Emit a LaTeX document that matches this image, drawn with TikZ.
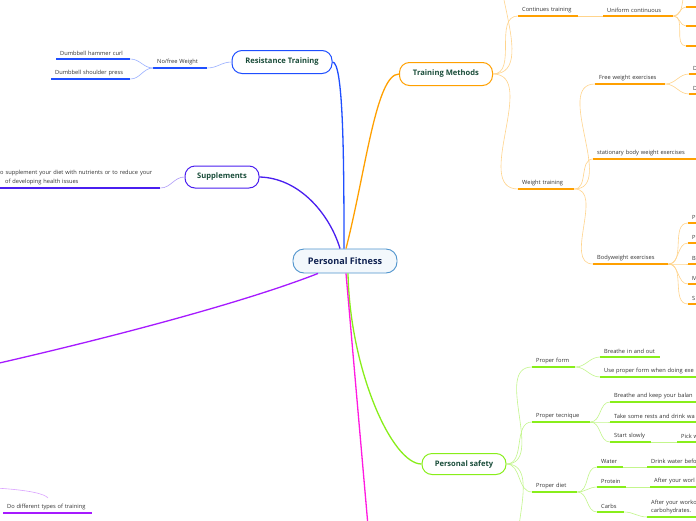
\documentclass[tikz,border=0pt]{standalone}
\usepackage{fontspec}
\setmainfont{Open Sans}

\definecolor{rootline}{HTML}{4F94CD}
\definecolor{rootfill}{HTML}{F3F8FC}
\definecolor{roottext}{HTML}{0F2150}
\definecolor{nodetext}{HTML}{1A4D3A}
\definecolor{leaftext}{HTML}{333333}
\definecolor{resblue}{HTML}{1F4FFF}
\definecolor{supblue}{HTML}{4A1FF0}
\definecolor{tmorange}{HTML}{FFA000}
\definecolor{psgreen}{HTML}{88EE1A}
\definecolor{lpurple}{HTML}{A61AFF}
\definecolor{magen}{HTML}{FF1AE0}

\tikzset{
  topic/.style={draw, rounded corners=10pt, line width=1pt, fill=white, text=nodetext,
    font=\fontsize{7.6}{9}\selectfont\bfseries, minimum height=22pt},
  leaf/.style={anchor=south west, inner xsep=4pt, inner ysep=3pt, text width=#1, align=left,
    text=leaftext, font=\fontsize{5.7}{8}\selectfont,
    append after command={(\tikzlastnode.south west) edge[ul] (\tikzlastnode.south east)}},
  ul/.style={line width=1.3pt},
  twig/.style={line width=0.6pt},
  limb/.style={line width=1.3pt},
}

\begin{document}
\begin{tikzpicture}[x=1pt, y=-1pt]
  \path[use as bounding box, fill=white] (0,0) rectangle (696,520);

  % main topics
  \node[draw=rootline, fill=rootfill, line width=0.9pt, rounded corners=11pt, text=roottext,
    font=\fontsize{9.1}{11}\selectfont\bfseries, minimum width=104pt, minimum height=24pt] (pf) at (345,261) {Personal Fitness};
  \node[topic, draw=resblue, minimum width=100pt, minimum height=23pt] (res) at (282,62) {Resistance Training};
  \node[topic, draw=supblue, minimum width=74pt] (sup) at (222,177) {Supplements};
  \node[topic, draw=tmorange, minimum width=93pt, minimum height=23pt] (tm) at (446,74) {Training Methods};
  \node[topic, draw=psgreen, minimum width=84pt, minimum height=21pt] (ps) at (464,464) {Personal safety};

  \coordinate (lft) at (-5,364);
  \coordinate (dwn) at (368,526);

  \draw[limb, resblue] (res.east) .. controls (343,62) and (344,150) .. ([xshift=-1pt]pf.north);
  \draw[limb, supblue] (sup.east) .. controls (300,178) and (330,215) .. ([xshift=-5pt]pf.north);
  \draw[limb, tmorange] ([xshift=1pt]pf.north) .. controls (366,170) and (376,74) .. (tm.west);
  \draw[limb, psgreen] ([xshift=3pt]pf.south) .. controls (350,370) and (392,464) .. (ps.west);
  \draw[limb, lpurple] ([xshift=-27pt]pf.south) .. controls (240,304) and (100,340) .. (lft);
  \draw[limb, magen] ([xshift=1pt]pf.south) -- (dwn);

  % resistance training
  \begin{scope}[ul/.append style={draw=resblue}, twig/.append style={draw=resblue!45}]
    \node[leaf=46pt] (nfw) at (153,68) {No/free Weight};
    \node[leaf=66pt] (dhc) at (56,59) {Dumbbell hammer curl};
    \node[leaf=71pt] (dsp) at (51,79) {Dumbbell shoulder press};
    \draw[twig] (nfw.south east) to[out=0,in=180] (res.west);
    \draw[twig] (dhc.south east) to[out=0,in=180] (nfw.south west);
    \draw[twig] (dsp.south east) to[out=0,in=180] (nfw.south west);
  \end{scope}

  % supplements
  \begin{scope}[ul/.append style={draw=supblue}, twig/.append style={draw=supblue!45}]
    \node[leaf=156pt, font=\fontsize{5.7}{9}\selectfont] (sdn) at (-4,188)
      {o supplement your diet with nutrients or to reduce your\\\hspace*{5pt}of developing health issues};
    \draw[twig] (sdn.south east) to[out=0,in=180] (sup.west);
  \end{scope}

  % other training
  \begin{scope}[ul/.append style={draw=lpurple}, twig/.append style={draw=lpurple!40}]
    \coordinate (dt1) at (-5,488);
    \coordinate (dt2) at (48,498);
    \node[leaf=81pt] (ddt) at (3,513) {Do different types of training};
    \draw[twig] (dt1) .. controls (30,490) and (45,494) .. (dt2);
  \end{scope}

  % training methods
  \begin{scope}[ul/.append style={draw=tmorange}, twig/.append style={draw=tmorange!45}]
    \coordinate (tmup) at (518,-60);
    \coordinate (ucup) at (692,-14);
    \node[leaf=52pt] (ct) at (518,16) {Continues training};
    \node[leaf=62pt] (uc) at (603,16) {Uniform continuous};
    \node[leaf=6pt] (uc1) at (686,7) {};
    \node[leaf=6pt] (uc2) at (686,26) {};
    \node[leaf=6pt] (uc3) at (686,46) {};
    \node[leaf=48pt] (wt) at (518,189) {Weight training};
    \node[leaf=62pt] (fwe) at (595,84) {Free weight exercises};
    \node[leaf=6pt] (fw1) at (689,74) {D};
    \node[leaf=6pt] (fw2) at (689,94) {D};
    \node[leaf=104pt] (sbw) at (593,159) {stationary body weight exercises};
    \node[leaf=67pt] (bwe) at (593,264) {Bodyweight exercises};
    \node[leaf=6pt] (bw1) at (688,223) {P};
    \node[leaf=6pt] (bw2) at (688,243) {P};
    \node[leaf=6pt] (bw3) at (688,264) {B};
    \node[leaf=6pt] (bw4) at (688,284) {M};
    \node[leaf=6pt] (bw5) at (688,304) {S};

    \draw[twig] (tm.east) to[out=0,in=180] (tmup);
    \draw[twig] (tm.east) to[out=0,in=180] (ct.south west);
    \draw[twig] (tm.east) to[out=0,in=180] (wt.south west);
    \draw[twig] (ct.south east) -- (uc.south west);
    \draw[twig] (uc.south east) to[out=0,in=180] (ucup);
    \foreach \k in {uc1,uc2,uc3} \draw[twig] (uc.south east) to[out=0,in=180] (\k.south west);
    \foreach \k in {fwe,sbw,bwe} \draw[twig] (wt.south east) to[out=0,in=180] (\k.south west);
    \foreach \k in {fw1,fw2} \draw[twig] (fwe.south east) to[out=0,in=180] (\k.south west);
    \foreach \k in {bw1,bw2,bw3,bw4,bw5} \draw[twig] (bwe.south east) to[out=0,in=180] (\k.south west);
  \end{scope}

  % personal safety
  \begin{scope}[ul/.append style={draw=psgreen}, twig/.append style={draw=psgreen!50}]
    \coordinate (psdn) at (534,570);
    \node[leaf=35pt] (pfm) at (532,367) {Proper form};
    \node[leaf=52pt] (bio) at (600,357) {Breathe in and out};
    \node[leaf=100pt] (upf) at (600,377) {Use proper form when doing exe};
    \node[leaf=50pt] (ptq) at (532,422) {Proper tecnique};
    \node[leaf=90pt] (bkb) at (610,402) {Breathe and keep your balan};
    \node[leaf=90pt] (tsr) at (610,422) {Take some rests and drink wa};
    \node[leaf=33pt] (sts) at (610,442) {Start slowly};
    \node[leaf=30pt] (pkw) at (677,442) {Pick w};
    \node[leaf=37pt] (pdt) at (532,492) {Proper diet};
    \node[leaf=18pt] (wat) at (597,467) {Water};
    \node[leaf=52pt] (dwb) at (647,467) {Drink water befo};
    \node[leaf=21pt] (prt) at (597,487) {Protein};
    \node[leaf=52pt] (ayw) at (650,487) {After your worl};
    \node[leaf=19pt] (crb) at (597,512) {Carbs};
    \node[leaf=52pt] (ayc) at (647,517) {After your worko\\carbohydrates.};

    \foreach \k in {pfm,ptq,pdt,psdn} \draw[twig] (ps.east) to[out=0,in=180] (\k.south west);
    \foreach \k in {bio,upf} \draw[twig] (pfm.south east) to[out=0,in=180] (\k.south west);
    \foreach \k in {bkb,tsr,sts} \draw[twig] (ptq.south east) to[out=0,in=180] (\k.south west);
    \foreach \k in {wat,prt,crb} \draw[twig] (pdt.south east) to[out=0,in=180] (\k.south west);
    \draw[twig] (sts.south east) -- (pkw.south west);
    \draw[twig] (wat.south east) -- (dwb.south west);
    \draw[twig] (prt.south east) -- (ayw.south west);
    \draw[twig] (crb.south east) to[out=0,in=180] (ayc.south west);
  \end{scope}
\end{tikzpicture}
\end{document}
